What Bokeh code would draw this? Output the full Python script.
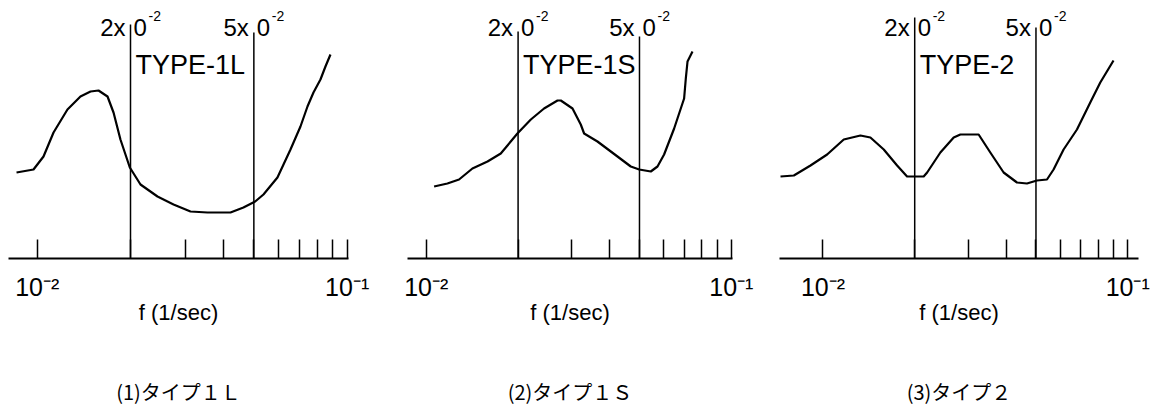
from bokeh.plotting import figure
from bokeh.layouts import row, column
from bokeh.models import Range1d, FixedTicker
from bokeh.core.properties import value
from bokeh.embed import file_html
from bokeh.resources import INLINE

# Frequency (1/sec) and relative response of each type
freq_1l = [0.008576, 0.009729, 0.01048, 0.01129, 0.01252, 0.01379, 0.01486, 0.01577,
           0.01686, 0.01763, 0.01856, 0.0199, 0.02154, 0.02444, 0.02753, 0.03123,
           0.03543, 0.04203, 0.04628, 0.0505, 0.0537, 0.05958, 0.06564, 0.07069,
           0.07447, 0.07786, 0.08201, 0.08511, 0.08834]
resp_1l = [86, 89, 102, 126, 149, 162, 167, 168, 162, 146, 119, 91, 74, 62, 54, 47,
           46, 46, 51, 57, 64, 81, 109, 132, 152, 166, 179, 192, 204]

freq_1s = [0.01061, 0.01173, 0.01281, 0.01417, 0.01588, 0.01755, 0.0199, 0.02202,
           0.02433, 0.02693, 0.02761, 0.03016, 0.0321, 0.03292, 0.03641, 0.04235,
           0.04682, 0.0499, 0.05446, 0.05728, 0.06021, 0.06495, 0.07003, 0.07093,
           0.07185, 0.07461]
resp_1s = [72, 75, 79, 90, 97, 105, 125, 139, 150, 158, 158, 150, 134, 125, 117, 102,
           92, 89, 87, 92, 104, 130, 160, 180, 197, 207]

freq_2 = [0.007255, 0.008024, 0.0091, 0.01032, 0.0117, 0.01327, 0.01431, 0.01583,
          0.01751, 0.01888, 0.0214, 0.02197, 0.02428, 0.02685, 0.02824, 0.03242,
          0.03541, 0.03916, 0.04332, 0.04671, 0.05038, 0.05434, 0.05711, 0.0616,
          0.06816, 0.07536, 0.08128, 0.08984]
resp_2 = [82, 83, 93, 104, 119, 123, 121, 109, 93, 82, 82, 86, 106, 121, 124, 124,
          106, 86, 76, 75, 78, 79, 89, 109, 129, 156, 176, 198]

# Axis ticks and labels
labelled_ticks = [0.01, 0.1]
tick_texts = ["10⁻²", "10⁻¹"]
minor_ticks = [0.02, 0.03, 0.04, 0.05, 0.06, 0.07, 0.08, 0.09]
x_title = "f (1/sec)"

# Marked frequencies, labelled "2x|0^-2" where the line itself forms the "1"
marker_freqs = [0.02, 0.05]
marker_heads = ["2x", "5x"]
marker_tails = ["0", "0"]
marker_powers = ["-2", "-2"]

type_names = ["TYPE-1L", "TYPE-1S", "TYPE-2"]
captions = ["(1)タイプ１Ｌ", "(2)タイプ１Ｓ", "(3)タイプ２"]

FONT = "Liberation Sans"
CHART_H = 360
CAPTION_H = 48


def make_panel(freq, resp, name, x_start, x_end, width, left, right, line_tops):
    p = figure(width=width, height=CHART_H, x_axis_type="log",
               x_range=Range1d(x_start, x_end), y_range=Range1d(0, 250),
               y_axis_location=None, output_backend="svg", toolbar_location=None,
               min_border_left=left, min_border_right=right,
               min_border_top=8, min_border_bottom=CHART_H - 258)
    p.grid.visible = False
    p.outline_line_color = None
    p.background_fill_color = "white"
    p.border_fill_color = "white"

    ax = p.xaxis[0]
    ax.ticker = FixedTicker(ticks=labelled_ticks, minor_ticks=minor_ticks)
    ax.major_label_overrides = dict(zip(labelled_ticks, tick_texts))
    ax.axis_line_color = "black"
    ax.axis_line_width = 2
    ax.major_tick_in = 19
    ax.major_tick_out = 0
    ax.minor_tick_in = 19
    ax.minor_tick_out = 0
    ax.major_tick_line_width = 1.5
    ax.minor_tick_line_width = 1.5
    ax.major_tick_line_color = "black"
    ax.minor_tick_line_color = "black"
    ax.major_label_standoff = 14
    ax.major_label_text_font = FONT
    ax.major_label_text_font_size = "25px"
    ax.major_label_text_color = "black"
    ax.axis_label = x_title
    ax.axis_label_standoff = -4
    ax.axis_label_text_font = FONT
    ax.axis_label_text_font_style = "normal"
    ax.axis_label_text_font_size = "22px"
    ax.axis_label_text_color = "black"

    # marked frequency lines
    p.segment(x0=marker_freqs, y0=[0, 0], x1=marker_freqs, y1=line_tops,
              line_color="black", line_width=1.5)
    p.text(x=marker_freqs, y=[231, 231], text=marker_heads, text_align="right",
           text_baseline="alphabetic", x_offset=-5, text_font=value(FONT),
           text_font_size="24px", text_color="black")
    p.text(x=marker_freqs, y=[231, 231], text=marker_tails, text_align="left",
           text_baseline="alphabetic", x_offset=3, text_font=value(FONT),
           text_font_size="24px", text_color="black")
    p.text(x=marker_freqs, y=[243, 243], text=marker_powers, text_align="left",
           text_baseline="alphabetic", x_offset=18, text_font=value(FONT),
           text_font_size="14px", text_color="black")
    p.text(x=[marker_freqs[0]], y=[194], text=[name], text_align="left",
           text_baseline="alphabetic", x_offset=5, text_font=value(FONT),
           text_font_size="27px", text_color="black")

    # response curve
    p.line(freq, resp, line_color="black", line_width=2.2, line_join="round")
    return p


def make_caption(text, width, left, right):
    c = figure(width=width, height=CAPTION_H, x_range=Range1d(0, 1),
               y_range=Range1d(0, 1), x_axis_location=None, y_axis_location=None,
               output_backend="svg", toolbar_location=None,
               min_border_left=left, min_border_right=right,
               min_border_top=0, min_border_bottom=0)
    c.grid.visible = False
    c.outline_line_color = None
    c.text(x=[0.5], y=[0.35], text=[text], text_align="center",
           text_baseline="middle", text_font=value("Noto Sans CJK JP"),
           text_font_size="20px", text_color="black")
    return c


panel_geom = [
    (0.00808, 0.101, 390, 8, 42, [234, 226]),
    (0.00868, 0.1009, 380, 17, 38, [227, 222]),
    (0.0072, 0.1085, 387, 9, 19, [241, 231]),
]
series = [(freq_1l, resp_1l), (freq_1s, resp_1s), (freq_2, resp_2)]

charts = []
caps = []
for (freq, resp), name, cap, (x0, x1, w, l, r, tops) in zip(series, type_names,
                                                           captions, panel_geom):
    charts.append(make_panel(freq, resp, name, x0, x1, w, l, r, tops))
    caps.append(make_caption(cap, w, l, r))

layout = column(row(*charts), row(*caps))
open("out.html", "w").write(file_html(layout, INLINE))
